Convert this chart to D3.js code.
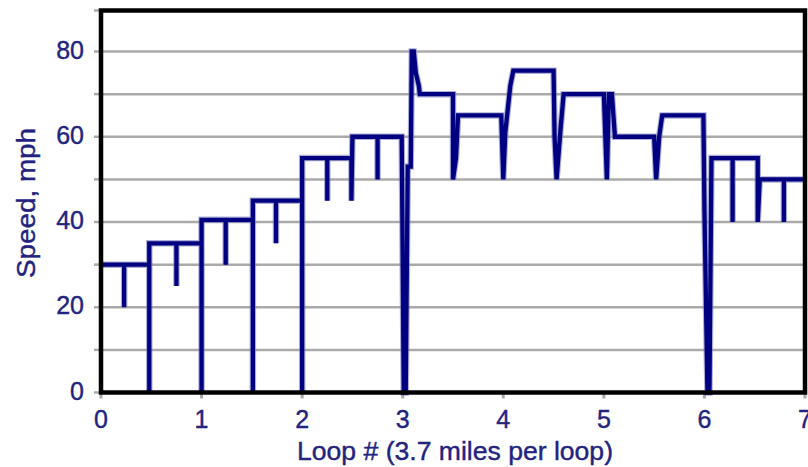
<!DOCTYPE html>
<html>
<head>
<meta charset="utf-8">
<script src="https://cdn.jsdelivr.net/npm/d3@7/dist/d3.min.js"></script>
<style>
  html, body { margin: 0; padding: 0; background: #ffffff; }
  svg { display: block; }
</style>
</head>
<body>
<svg id="chart" width="808" height="467"></svg>
<script>
// ---- data ----
const loopPos = [0,0.23,0.23,0.23,0.48,0.48,0.48,0.75,0.75,0.75,1.0,1.0,1.0,1.24,1.24,1.24,1.51,1.51,1.51,1.74,1.74,1.74,2.0,2.0,2.0,2.25,2.25,2.25,2.49,2.49,2.5,2.75,2.75,2.75,2.99,3.01,3.03,3.05,3.08,3.09,3.11,3.13,3.16,3.17,3.5,3.5,3.53,3.55,3.98,4.0,4.02,4.07,4.1,4.5,4.51,4.53,4.57,4.6,5.0,5.03,5.05,5.08,5.11,5.5,5.52,5.55,5.58,5.99,6.0,6.03,6.05,6.07,6.28,6.28,6.28,6.53,6.53,6.55,6.79,6.79,6.79,7.0];
const speed   = [30,30,20,30,30,0,35,35,25,35,35,0,40.5,40.5,30,40.5,40.5,0,45,45,35,45,45,0,55,55,45,55,55,45,60,60,50,60,60,0,0,53,53,80,80,75,72,70,70,50,55,65,65,50,61,72,75.5,75.5,60,50,62,70,70,50,70,70,60,60,50,60,65,65,43,0,0,55,55,40,55,55,40,50,50,40,50,50];
const xTicks = [0,1,2,3,4,5,6,7];
const yTickLabels = [0,20,40,60,80];
const yGrid = [10,20,30,40,50,60,70,80];
const yTickMarks = [0,10,20,30,40,50,60,70,80,90];
const xTitle = "Loop # (3.7 miles per loop)";
const yTitle = "Speed, mph";

// ---- layout ----
const svg = d3.select("#chart");
const x = d3.scaleLinear().domain([0, 7]).range([101, 805]);
const y = d3.scaleLinear().domain([0, 80]).range([392.5, 51.5]);
const yTop = 10.5;
const textColor = "#23237f";
const font = "'Liberation Sans', Arial, sans-serif";

// gridlines
svg.append("g").selectAll("line").data(yGrid).join("line")
  .attr("x1", x(0)).attr("x2", x(7))
  .attr("y1", d => y(d)).attr("y2", d => y(d))
  .attr("stroke", "#aaaaaa").attr("stroke-width", 2.5);

// tick marks
svg.append("g").selectAll("line").data(yTickMarks).join("line")
  .attr("x1", x(0) - 7).attr("x2", x(0))
  .attr("y1", d => Math.max(y(d), yTop)).attr("y2", d => Math.max(y(d), yTop))
  .attr("stroke", "#aaaaaa").attr("stroke-width", 2.5);
svg.append("g").selectAll("line").data(xTicks).join("line")
  .attr("x1", d => x(d)).attr("x2", d => x(d))
  .attr("y1", y(0)).attr("y2", y(0) + 6)
  .attr("stroke", "#aaaaaa").attr("stroke-width", 3);

// data line
const pts = loopPos.map((p, i) => [p, speed[i]]);
const line = d3.line().x(d => x(d[0])).y(d => y(d[1]));
svg.append("path").datum(pts)
  .attr("d", line).attr("fill", "none")
  .attr("stroke", "#7878c0").attr("stroke-width", 6.5).attr("stroke-opacity", 0.6)
  .attr("stroke-linejoin", "miter");
svg.append("path").datum(pts)
  .attr("d", line).attr("fill", "none")
  .attr("stroke", "#000080").attr("stroke-width", 4.3)
  .attr("stroke-linejoin", "miter");

// frame
svg.append("rect")
  .attr("x", x(0)).attr("y", yTop)
  .attr("width", x(7) - x(0)).attr("height", y(0) - yTop)
  .attr("fill", "none").attr("stroke", "#000000").attr("stroke-width", 4.5);

// y tick labels
svg.append("g").selectAll("text").data(yTickLabels).join("text")
  .attr("x", 84).attr("y", d => y(d) + 7)
  .attr("text-anchor", "end")
  .attr("font-family", font).attr("font-size", 25)
  .attr("fill", textColor).attr("stroke", textColor).attr("stroke-width", 0.4)
  .text(d => d);

// x tick labels
svg.append("g").selectAll("text").data(xTicks).join("text")
  .attr("x", d => x(d)).attr("y", 428)
  .attr("text-anchor", "middle")
  .attr("font-family", font).attr("font-size", 25)
  .attr("fill", textColor).attr("stroke", textColor).attr("stroke-width", 0.4)
  .text(d => d);

// axis titles
svg.append("text")
  .attr("x", 297).attr("y", 460)
  .attr("font-family", font).attr("font-size", 26)
  .attr("textLength", 316).attr("lengthAdjust", "spacingAndGlyphs")
  .attr("fill", textColor).attr("stroke", textColor).attr("stroke-width", 0.4)
  .text(xTitle);
svg.append("text")
  .attr("transform", "translate(35,203) rotate(-90)")
  .attr("text-anchor", "middle")
  .attr("font-family", font).attr("font-size", 25)
  .attr("textLength", 150).attr("lengthAdjust", "spacingAndGlyphs")
  .attr("fill", textColor).attr("stroke", textColor).attr("stroke-width", 0.4)
  .text(yTitle);
</script>
</body>
</html>
